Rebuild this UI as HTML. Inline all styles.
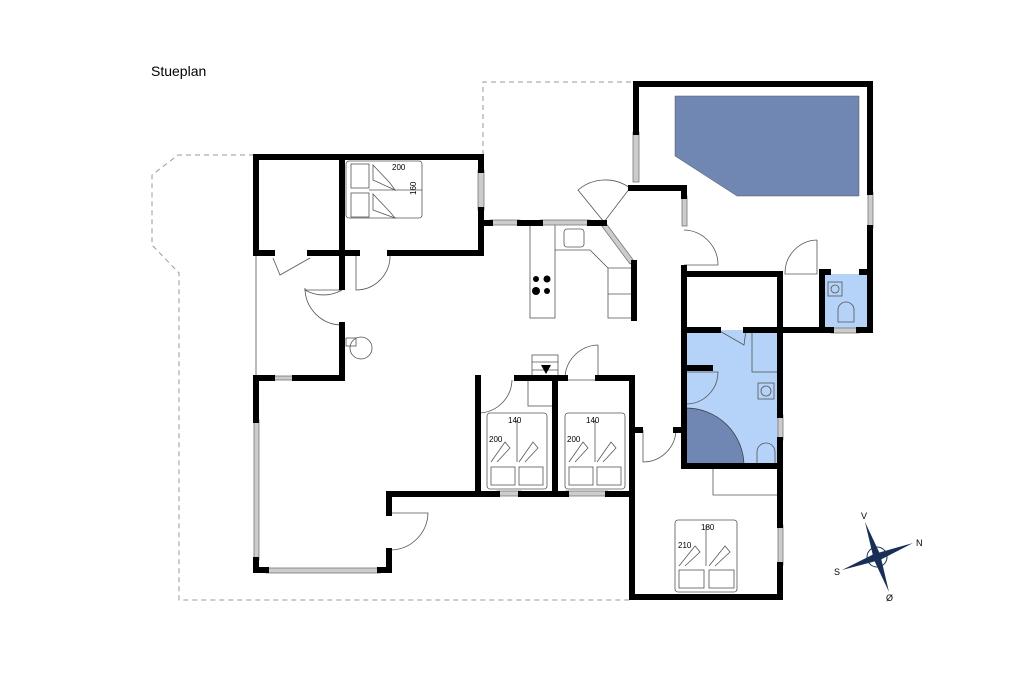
<!DOCTYPE html>
<html><head><meta charset="utf-8"><style>
html,body{margin:0;padding:0;background:#fff;width:1024px;height:682px;overflow:hidden}
svg{display:block}
text{font-family:"Liberation Sans",sans-serif}
</style></head><body>
<svg width="1024" height="682" viewBox="0 0 1024 682" xmlns="http://www.w3.org/2000/svg">
<text x="151" y="76" font-size="14" fill="#000">Stueplan</text>
<g fill="none" stroke="#999" stroke-width="1" stroke-dasharray="5,4">
<polyline points="254,155 178,155 152,175 152,245 179,273 179,600 632,600"/>
<polyline points="483,155 483,82 636,82"/>
</g>
<polygon points="675,96 859,96 859,196 737,196 675,156" fill="#7087b4" stroke="#555" stroke-width="0.5"/>
<rect x="686" y="330" width="92" height="136" fill="#b5d2f8"/>
<rect x="824" y="274" width="46" height="56" fill="#b5d2f8"/>
<path d="M686,466 L686,408 A58,58 0 0 1 744,466 Z" fill="#7087b4" stroke="#333" stroke-width="0.7"/>
<g fill="none" stroke="#555" stroke-width="0.8">
<line x1="256" y1="255" x2="256" y2="378"/>
<rect x="346" y="161" width="76" height="57" rx="3"/>
<rect x="351" y="164" width="18" height="24"/><rect x="351" y="193" width="18" height="24"/>
<line x1="369" y1="190" x2="422" y2="190"/>
<path d="M373,165 L373,180 L395,190 L390,183 Z"/><path d="M373,194 L373,210 L395,218 L390,212 Z"/>
<rect x="530" y="224" width="25" height="94"/>
<path d="M555,250 L590,250 L608,268 L632,268 L632,318 L608,318 L608,268"/>
<line x1="608" y1="294" x2="632" y2="294"/>
<rect x="564" y="229" width="20" height="18" rx="3"/>
<rect x="346" y="338" width="10" height="8"/><circle cx="361" cy="348" r="11"/>
<rect x="532" y="355" width="26" height="23"/><line x1="532" y1="362" x2="558" y2="362"/><line x1="532" y1="370" x2="558" y2="370"/>
<rect x="528" y="378" width="25" height="28"/>
<rect x="487" y="413" width="60" height="76" rx="3"/><line x1="517" y1="420" x2="517" y2="462"/>
<rect x="491" y="467" width="24" height="18"/><rect x="519" y="467" width="24" height="18"/>
<rect x="565" y="413" width="60" height="76" rx="3"/><line x1="595" y1="420" x2="595" y2="462"/>
<rect x="569" y="467" width="24" height="18"/><rect x="597" y="467" width="24" height="18"/>
<path d="M491,462 L505,442 L510,448 L497,462"/><path d="M519,462 L533,442 L538,448 L525,462"/>
<path d="M569,462 L583,442 L588,448 L575,462"/><path d="M597,462 L611,442 L616,448 L603,462"/>
<rect x="675" y="520" width="62" height="72" rx="3"/><line x1="706" y1="525" x2="706" y2="566"/>
<rect x="679" y="570" width="25" height="18"/><rect x="709" y="570" width="25" height="18"/>
<path d="M679,566 L695,546 L700,552 L685,566"/><path d="M709,566 L725,546 L730,552 L715,566"/>
<polyline points="713,468 713,495 778,495"/>
<rect x="752" y="330" width="26" height="42"/>
<rect x="758" y="383" width="16" height="16"/><circle cx="766" cy="391" r="5"/>
<rect x="828" y="282" width="14" height="14"/><circle cx="835" cy="289" r="4"/>
<path d="M273,258 L280,275 L310,258"/><path d="M342,290 A37,37 0 0 1 305,290 L342,290"/>
<path d="M342,325 A37,37 0 0 1 305,288"/>
<path d="M356,255 L356,290 A34,34 0 0 0 390,255"/>
<path d="M604,222 L578,190 A42,42 0 0 1 630,188 Z"/>
<path d="M684,230 A35,35 0 0 1 718,265 L684,265"/>
<path d="M817,240 L817,274 L785,274 A33,33 0 0 1 817,240"/>
<path d="M598,345 L598,380 L565,380 A34,34 0 0 1 598,345"/>
<path d="M478,413 A34,34 0 0 0 512,380"/>
<path d="M643,430 L643,462 A33,33 0 0 0 676,430"/>
<path d="M686,372 L718,372 A32,32 0 0 1 686,404"/>
<path d="M718,330 L744,345 L746,330"/>
<path d="M391,513 L428,513 A38,38 0 0 1 391,550"/>
<path d="M757,466 L757,452 A9,9 0 0 1 775,452 L775,466 Z"/>
<path d="M838,322 L838,310 A8,8 0 0 1 854,310 L854,322 Z"/>
</g>
<g fill="#000"><circle cx="536" cy="279" r="3"/><circle cx="547" cy="279" r="3.5"/><circle cx="536" cy="291" r="4"/><circle cx="547" cy="291" r="3"/>
<polygon points="541,365 551,365 546,374"/></g>
<g fill="#ccc" stroke="#777" stroke-width="0.8">
<rect x="478" y="170" width="6" height="40"/><rect x="490" y="220" width="30" height="5"/><rect x="540" y="220" width="50" height="5"/>
<rect x="633" y="132" width="6" height="50"/><rect x="682" y="196" width="5" height="30"/><rect x="868" y="192" width="5" height="36"/>
<rect x="272" y="376" width="22" height="4"/><rect x="254" y="420" width="5" height="140"/><rect x="266" y="568" width="114" height="5"/>
<rect x="497" y="491" width="24" height="5"/><rect x="566" y="491" width="42" height="5"/>
<rect x="778" y="415" width="5" height="25"/><rect x="778" y="525" width="5" height="40"/><rect x="831" y="328" width="28" height="5"/>
<polygon points="605,222 634,261 630,264 601,225"/>
</g>
<g stroke="#000" stroke-width="6" fill="none" stroke-linecap="square">
<polyline points="481,170 481,157 256,157 256,253 272,253"/>
<line x1="310" y1="253" x2="357" y2="253"/><polyline points="390,253 481,253 481,210"/>
<line x1="342" y1="157" x2="342" y2="287"/><polyline points="342,325 342,378 295,378"/><line x1="256" y1="378" x2="272" y2="378"/>
<polyline points="256,420 256,378"/>
<line x1="256" y1="560" x2="256" y2="570"/><line x1="256" y1="570" x2="266" y2="570"/><polyline points="380,570 389,570 389,551"/>
<polyline points="389,513 389,494 497,494"/><line x1="521" y1="494" x2="566" y2="494"/><polyline points="608,494 632,494 632,597 780,597 780,565"/>
<line x1="780" y1="525" x2="780" y2="440"/><line x1="780" y1="415" x2="780" y2="330"/>
<line x1="484" y1="223" x2="490" y2="223"/><line x1="520" y1="223" x2="540" y2="223"/><line x1="590" y1="223" x2="604" y2="223"/>
<line x1="634" y1="263" x2="634" y2="318"/>
<polyline points="636,132 636,84 870,84 870,192"/><polyline points="870,228 870,330 859,330"/>
<polyline points="631,188 684,188 684,196"/>
<line x1="684" y1="268" x2="684" y2="466"/><polyline points="684,466 780,466"/>
<polyline points="684,274 780,274 780,330 831,330"/><polyline points="822,274 822,330"/>
<line x1="822" y1="272" x2="828" y2="272"/><line x1="862" y1="272" x2="870" y2="272"/>
<line x1="686" y1="330" x2="718" y2="330"/><line x1="746" y1="330" x2="780" y2="330"/>
<line x1="686" y1="368" x2="710" y2="368"/>
<line x1="478" y1="378" x2="478" y2="494"/><line x1="517" y1="378" x2="565" y2="378"/>
<line x1="555" y1="378" x2="555" y2="494"/><line x1="598" y1="378" x2="632" y2="378"/>
<line x1="632" y1="378" x2="632" y2="494"/><line x1="632" y1="430" x2="640" y2="430"/><line x1="676" y1="430" x2="684" y2="430"/>
</g>
<g font-size="8" fill="#000">
<text x="392" y="170">200</text><text x="416" y="195" transform="rotate(-90 416 195)">160</text>
<text x="508" y="423">140</text><text x="489" y="442">200</text>
<text x="586" y="423">140</text><text x="567" y="442">200</text>
<text x="701" y="530">180</text><text x="678" y="548">210</text>
</g>
<g transform="translate(877,557)">
<g stroke="#1a2f55" stroke-width="1" fill="none"><circle r="10"/></g>
<polygon points="-12,-35 3,-3 -3,3" fill="#1a2f55"/><polygon points="12,35 3,-3 -3,3" fill="#1a2f55"/>
<polygon points="36,-14 3,3 -3,-3" fill="#1a2f55"/><polygon points="-35,13 3,3 -3,-3" fill="#1a2f55"/>
<circle r="5" fill="#1a2f55"/>
<text x="-16" y="-38" font-size="9">V</text><text x="39" y="-11" font-size="9">N</text>
<text x="-43" y="18" font-size="9">S</text><text x="9" y="44" font-size="9">Ø</text>
</g>
</svg>
</body></html>
